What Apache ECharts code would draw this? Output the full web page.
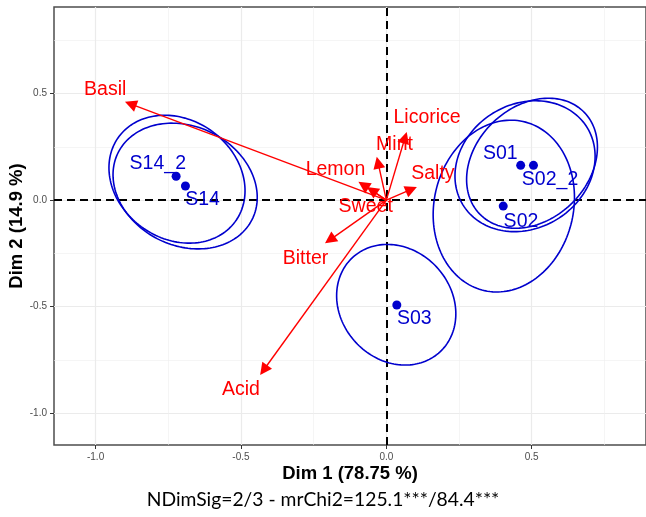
<!DOCTYPE html>
<html>
<head>
<meta charset="utf-8">
<script src="https://cdn.jsdelivr.net/npm/echarts@6/dist/echarts.min.js"></script>
<style>
html,body{margin:0;padding:0;background:#fff;}
#chart{width:646px;height:517px;}
</style>
</head>
<body>
<div id="chart"></div>
<script>
// ---- data ----
const xTicks = [-1.0, -0.5, 0.0, 0.5];
const yTicks = [-1.0, -0.5, 0.0, 0.5];

const sampleNames = ['S01', 'S02', 'S02_2', 'S03', 'S14', 'S14_2'];
const sampleX = [0.462, 0.402, 0.506, 0.036, -0.691, -0.723];
const sampleY = [0.163, -0.028, 0.163, -0.492, 0.066, 0.112];
const sampleLabelX = [0.392, 0.463, 0.563, 0.096, -0.632, -0.786];
const sampleLabelY = [0.216, -0.102, 0.095, -0.558, 0.000, 0.172];

// confidence ellipses: centre, half-extent in x and y, correlation
const ellipseCX = [0.477, 0.404, 0.501, 0.034, -0.692, -0.720];
const ellipseCY = [0.159, -0.028, 0.173, -0.491, 0.066, 0.098];
const ellipseRX = [0.241, 0.243, 0.225, 0.205, 0.248, 0.234];
const ellipseRY = [0.307, 0.403, 0.305, 0.283, 0.295, 0.300];
const ellipseRho = [0.15, 0.10, 0.25, -0.15, -0.18, -0.18];

const attrNames = ['Basil', 'Licorice', 'Mint', 'Lemon', 'Salty', 'Sweet', 'Bitter', 'Acid'];
const attrX = [-0.899, 0.070, -0.033, -0.096, 0.105, -0.067, -0.211, -0.434];
const attrY = [0.461, 0.320, 0.203, 0.086, 0.062, 0.062, -0.203, -0.820];
const attrLabelX = [-0.967, 0.140, 0.028, -0.175, 0.160, -0.071, -0.278, -0.500];
const attrLabelY = [0.516, 0.389, 0.258, 0.144, 0.122, -0.031, -0.273, -0.891];

const xTitle = 'Dim 1 (78.75 %)';
const yTitle = 'Dim 2 (14.9 %)';
const subTitle = 'NDimSig=2/3 - mrChi2=125.1***/84.4***';

// ---- styling ----
const BLUE = '#0000CD';
const RED = '#FF0000';
const FONT = 'Liberation Sans, Arial, sans-serif';

const chart = echarts.init(document.getElementById('chart'), null, {renderer: 'canvas'});

function axisCfg(ticks, min, max, name, gap) {
  return {
    type: 'value',
    min: min, max: max,
    splitNumber: 4, minInterval: 0.5, maxInterval: 0.5,
    name: name, nameLocation: 'middle', nameGap: gap, nameMoveOverlap: false,
    nameTextStyle: {fontFamily: FONT, fontWeight: 'bold', fontSize: 18.5, color: '#000'},
    axisLine: {show: false, onZero: false},
    axisTick: {show: true, length: 4, customValues: ticks, lineStyle: {color: '#333', width: 1}},
    axisLabel: {customValues: ticks, color: '#4D4D4D', fontSize: 10, fontFamily: FONT, margin: 7,
      formatter: v => v.toFixed(1)},
    splitLine: {show: true, lineStyle: {color: '#EBEBEB', width: 1.2}},
    minorTick: {show: false, splitNumber: 2},
    minorSplitLine: {show: true, lineStyle: {color: '#EFEFEF', width: 0.6}}
  };
}

const option = {
  backgroundColor: '#fff',
  animation: false,
  title: {
    text: subTitle, left: 'center', top: 485,
    textStyle: {fontFamily: 'Lato, Noto Sans, sans-serif', fontSize: 19.3, fontWeight: 'normal', color: '#000'}
  },
  grid: {left: 54, right: 0, top: 7, bottom: 72, show: true, borderColor: '#4d4d4d', borderWidth: 1.5,
    containLabel: false, outerBoundsMode: 'none'},
  xAxis: axisCfg(xTicks, -1.143, 0.893, xTitle, 19),
  yAxis: axisCfg(yTicks, -1.149, 0.906, yTitle, 28),
  series: [
    {
      type: 'custom', name: 'ellipses', coordinateSystem: 'cartesian2d', silent: true, z: 3,
      encode: {x: 0, y: 1},
      data: sampleNames.map((n, i) => [ellipseCX[i], ellipseCY[i], ellipseRX[i], ellipseRY[i], ellipseRho[i]]),
      renderItem: function (params, api) {
        const cx = api.value(0), cy = api.value(1), rx = api.value(2), ry = api.value(3), r = api.value(4);
        const s = Math.sqrt(1 - r * r);
        const pts = [];
        const n = 160;
        for (let k = 0; k <= n; k++) {
          const t = 2 * Math.PI * k / n;
          pts.push(api.coord([cx + rx * Math.cos(t), cy + ry * (r * Math.cos(t) + s * Math.sin(t))]));
        }
        return {type: 'polyline', shape: {points: pts}, style: {stroke: BLUE, lineWidth: 1.6, fill: 'none'}};
      },
      markLine: {
        silent: true, symbol: 'none', z: 2,
        label: {show: false},
        lineStyle: {color: '#000', type: [8, 5], width: 2},
        data: [{xAxis: 0}, {yAxis: 0}]
      }
    },
    {
      type: 'custom', name: 'arrows', coordinateSystem: 'cartesian2d', silent: true, z: 4,
      encode: {x: 0, y: 1},
      data: attrNames.map((n, i) => [attrX[i], attrY[i]]),
      renderItem: function (params, api) {
        const o = api.coord([0, 0]);
        const p = api.coord([api.value(0), api.value(1)]);
        const dx = p[0] - o[0], dy = p[1] - o[1];
        const L = Math.hypot(dx, dy) || 1;
        const ux = dx / L, uy = dy / L;
        const hl = 12, hw = 6;
        const bx = p[0] - ux * hl, by = p[1] - uy * hl;
        return {
          type: 'group',
          children: [
            {type: 'line', shape: {x1: o[0], y1: o[1], x2: bx + ux * 2, y2: by + uy * 2}, style: {stroke: RED, lineWidth: 1.4}},
            {type: 'polygon', shape: {points: [[p[0], p[1]], [bx - uy * hw, by + ux * hw], [bx + uy * hw, by - ux * hw]]},
              style: {fill: RED}}
          ]
        };
      }
    },
    {
      type: 'scatter', name: 'samples', z: 5, symbol: 'circle', symbolSize: 9,
      itemStyle: {color: BLUE, opacity: 1},
      data: sampleNames.map((n, i) => [sampleX[i], sampleY[i]])
    },
    {
      type: 'scatter', name: 'sampleLabels', z: 6, symbol: 'circle', symbolSize: 1,
      itemStyle: {color: 'rgba(0,0,0,0)', opacity: 1},
      label: {show: true, position: 'inside', color: BLUE, fontSize: 19.5, fontFamily: FONT, opacity: 1,
        formatter: p => p.data[2]},
      data: sampleNames.map((n, i) => [sampleLabelX[i], sampleLabelY[i], n])
    },
    {
      type: 'scatter', name: 'attrLabels', z: 6, symbol: 'circle', symbolSize: 1,
      itemStyle: {color: 'rgba(0,0,0,0)', opacity: 1},
      label: {show: true, position: 'inside', color: RED, fontSize: 19.5, fontFamily: FONT, opacity: 1,
        formatter: p => p.data[2]},
      data: attrNames.map((n, i) => [attrLabelX[i], attrLabelY[i], n])
    }
  ]
};
chart.setOption(option);
</script>
</body>
</html>
